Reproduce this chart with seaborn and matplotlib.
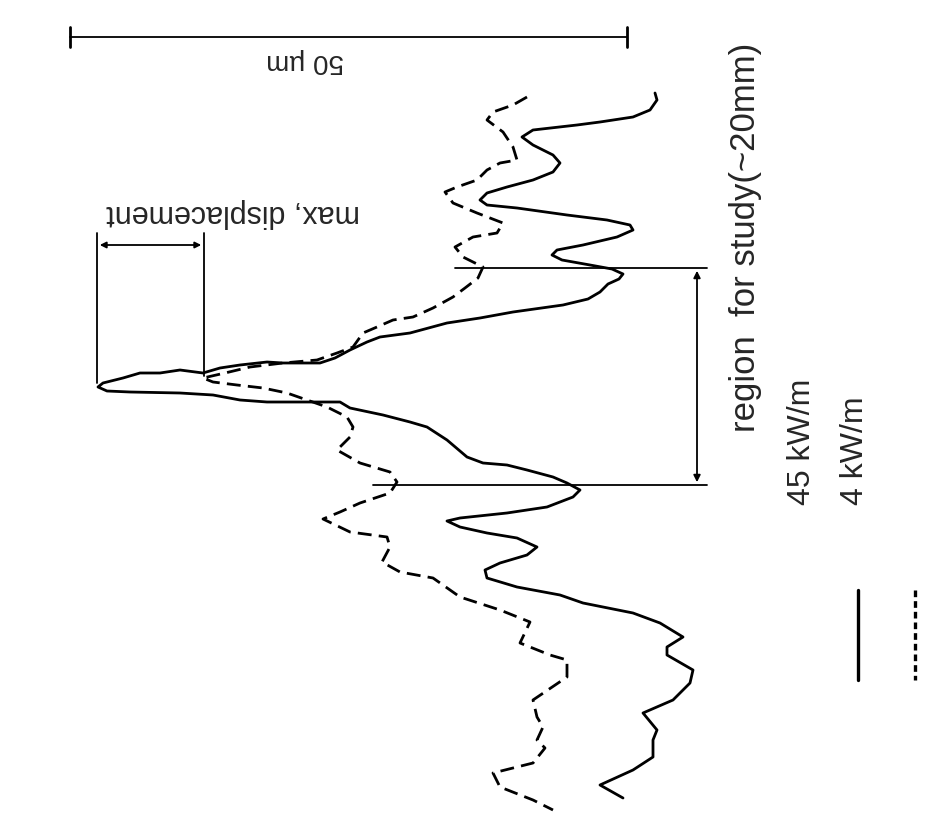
import matplotlib
matplotlib.use("Agg")
import matplotlib.pyplot as plt
import seaborn as sns
import pandas as pd

sns.set_theme(style="white")
plt.rcParams['font.family'] = ['Liberation Sans', 'DejaVu Sans']

# Profile of the surface: displacement (scaled units) vs position along the specimen
disp_45 = [65.5, 65.7, 65.0, 63.3, 60.0, 57.7, 53.3, 52.2, 53.3, 55.3, 56.0, 55.3, 53.3, 50.7,
           48.7, 48.0, 48.7, 51.7, 56.7, 60.7, 63.0, 63.3, 61.7, 58.3, 55.7, 55.2, 56.2, 59.0,
           61.2, 62.3, 61.9, 60.8, 60.0, 58.8, 56.3, 51.3, 48.0, 44.7, 41.0, 38.0, 36.7, 35.0,
           33.5, 32.0, 28.3, 26.7, 24.0, 22.0, 20.3, 18.0, 16.0, 14.0, 12.3, 10.3, 9.8, 10.7,
           13.0, 18.0, 21.3, 24.0, 26.7, 30.0, 34.0, 35.0, 38.3, 41.0, 42.7, 44.7, 46.7, 48.3,
           50.7, 52.7, 55.3, 56.7, 58.0, 57.3, 54.7, 50.7, 46.0, 44.7, 46.0, 48.7, 51.7, 53.7,
           52.7, 50.0, 48.5, 48.7, 51.7, 56.0, 58.3, 63.3, 66.0, 68.3, 66.7, 66.7, 69.3, 69.0,
           67.3, 64.3, 65.7, 65.3, 65.3, 63.3, 60.0, 62.3]
pos_45 = [9.3, 10.0, 11.0, 11.7, 12.2, 12.5, 13.0, 13.7, 14.5, 15.5, 16.3, 17.2, 18.0, 18.7,
          19.3, 20.0, 20.5, 20.8, 21.5, 22.0, 22.5, 23.0, 23.7, 24.5, 25.0, 25.5, 26.0, 26.5,
          26.9, 27.4, 27.9, 28.4, 29.2, 29.9, 30.5, 31.2, 31.8, 32.3, 33.3, 33.7, 34.2, 35.0,
          35.8, 36.3, 36.3, 36.2, 36.5, 36.8, 37.3, 37.0, 37.3, 37.3, 37.8, 38.3, 38.7, 39.1,
          39.2, 39.3, 39.5, 40.0, 40.2, 40.2, 40.2, 40.8, 41.5, 42.2, 42.7, 44.0, 45.7, 46.3,
          46.5, 47.0, 47.7, 48.3, 49.0, 49.7, 50.7, 51.3, 51.8, 52.1, 52.7, 53.3, 53.8, 54.7,
          55.5, 56.3, 57.0, 57.8, 58.7, 59.5, 60.3, 61.3, 62.3, 63.7, 64.7, 65.5, 67.0, 68.3,
          70.0, 71.3, 73.0, 74.0, 75.7, 77.0, 78.5, 79.8]

disp_4 = [52.7, 51.3, 49.3, 48.7, 50.3, 51.3, 51.7, 50.0, 48.7, 47.7, 45.7, 44.5, 45.3, 47.7,
          50.3, 49.7, 47.3, 45.5, 46.3, 48.3, 47.8, 46.5, 45.3, 43.3, 41.3, 39.3, 37.7, 36.3,
          35.3, 33.7, 31.7, 28.3, 25.0, 22.5, 20.3, 21.3, 23.7, 26.3, 28.7, 30.7, 32.7, 34.7,
          35.3, 35.0, 33.7, 36.0, 39.0, 39.7, 39.0, 36.0, 34.0, 32.3, 35.0, 38.7, 39.0, 38.2,
          40.0, 43.3, 46.0, 50.0, 53.0, 52.0, 55.0, 56.7, 56.7, 53.3, 53.7, 54.3, 53.7, 54.5,
          53.3, 49.3, 50.0, 53.3, 55.3]
pos_4 = [9.7, 10.5, 11.2, 12.0, 13.2, 14.7, 16.0, 16.3, 17.0, 18.0, 18.7, 19.2, 20.3, 21.3,
         22.3, 23.3, 23.7, 24.7, 25.7, 26.7, 27.8, 28.8, 29.7, 30.8, 31.7, 32.0, 32.7, 33.3,
         34.7, 35.3, 36.0, 36.3, 36.7, 37.3, 37.8, 38.2, 38.5, 38.8, 39.3, 40.0, 40.7, 41.7,
         42.7, 43.7, 45.0, 46.3, 47.2, 48.2, 49.3, 50.3, 51.2, 51.9, 53.2, 53.7, 54.7, 56.2,
         57.2, 57.8, 59.7, 61.0, 62.2, 64.3, 65.5, 66.0, 67.7, 70.0, 71.7, 72.7, 74.0, 74.8,
         76.3, 77.3, 78.7, 80.0, 81.0]

series_labels = ["45 kW/m", "4 kW/m"]
scale_label = "50 \u00b5m"
region_label = "region  for study(~20mm)"
maxdisp_label = "max, displacement"

df45 = pd.DataFrame({"disp": disp_45, "pos": pos_45})
df4 = pd.DataFrame({"disp": disp_4, "pos": pos_4})

fig = plt.figure(figsize=(9.28, 8.14), dpi=100)
ax = fig.add_axes([0, 0, 1, 1])

sns.lineplot(data=df45, x="disp", y="pos", sort=False, estimator=None, color="black",
             linewidth=2.0, solid_joinstyle="round", solid_capstyle="round", ax=ax)
sns.lineplot(data=df4, x="disp", y="pos", sort=False, estimator=None, color="black",
             linewidth=2.0, linestyle=(0, (5, 2.6)), dash_joinstyle="round", ax=ax)

ax.set_xlim(0, 92.8)
ax.set_ylim(81.4, 0)
ax.axis("off")

lw = 1.3
# scale bar
ax.plot([7.0, 62.7], [3.7, 3.7], color="black", lw=lw)
ax.plot([7.0, 7.0], [2.7, 4.7], color="black", lw=2)
ax.plot([62.7, 62.7], [2.7, 4.7], color="black", lw=2)
ax.text(30.5, 6.1, scale_label, rotation=180, ha="center", va="center", fontsize=20)

# max displacement bracket
ax.plot([9.7, 9.7], [23.3, 38.3], color="black", lw=lw)
ax.plot([20.4, 20.4], [23.3, 37.6], color="black", lw=lw)
ax.annotate("", xy=(9.7, 24.5), xytext=(20.4, 24.5),
            arrowprops=dict(arrowstyle="<|-|>", lw=lw, color="black", mutation_scale=9))
ax.text(23.3, 21.3, maxdisp_label, rotation=180, ha="center", va="center", fontsize=22)

# region for study
ax.plot([45.5, 70.7], [26.8, 26.8], color="black", lw=lw)
ax.plot([37.3, 70.7], [48.5, 48.5], color="black", lw=lw)
ax.annotate("", xy=(69.7, 26.8), xytext=(69.7, 48.5),
            arrowprops=dict(arrowstyle="<|-|>", lw=lw, color="black", mutation_scale=10))
ax.text(74.5, 23.7, region_label, rotation=90, ha="center", va="center", fontsize=25)

# legend
ax.plot([85.8, 85.8], [59.0, 68.0], color="black", lw=2.4)
ax.plot([91.5, 91.5], [59.0, 68.0], color="black", lw=2.4, linestyle=(0, (2, 1.2)))
ax.text(80.2, 50.5, series_labels[0], rotation=90, ha="center", va="bottom", fontsize=23)
ax.text(85.5, 50.5, series_labels[1], rotation=90, ha="center", va="bottom", fontsize=23)

fig.savefig("out.png", dpi=100, facecolor="white")
